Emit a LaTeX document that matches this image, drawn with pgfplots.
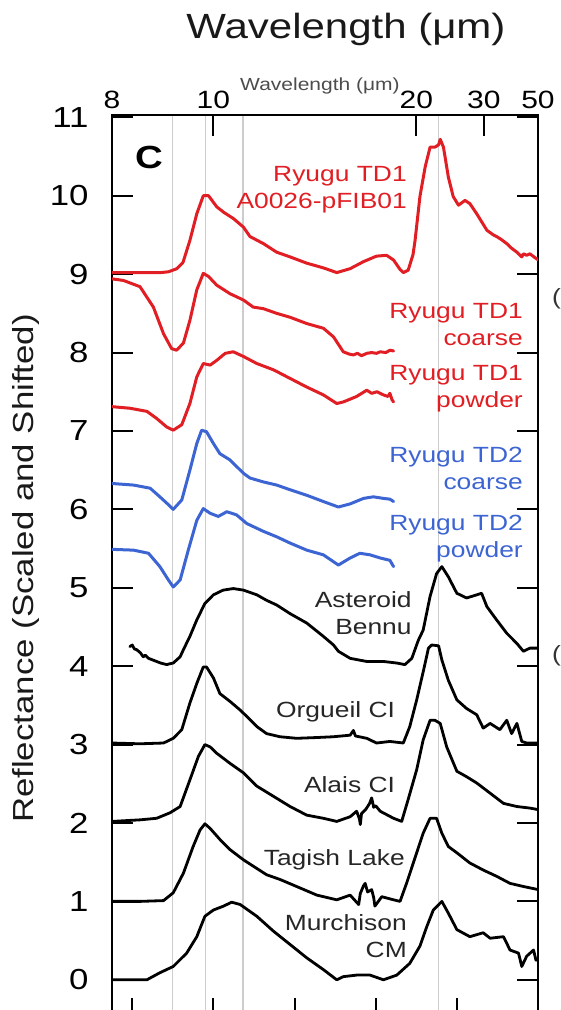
\documentclass[border=0pt]{standalone}
\usepackage{fontspec}
\setmainfont{Liberation Sans}[FakeStretch=1.2]
\usepackage{pgfplots}
\pgfplotsset{compat=1.18}
\definecolor{ryred}{RGB}{225,30,35}
\definecolor{ryblue}{RGB}{60,100,210}
\definecolor{vgrey}{RGB}{205,205,205}
\begin{document}
\begin{tikzpicture}
\begin{axis}[
  at={(112pt,-9pt)}, anchor=south west,
  scale only axis, width=426pt, height=904pt,
  xmin=200, xmax=1250, x dir=reverse,
  ymin=-0.5, ymax=11.03,
  xtick={400,600,800,1000,1200}, xticklabels={},
  xtick pos=lower, ytick pos=both,
  ytick={0,1,...,11},
  tick align=inside, major tick length=21pt,
  major tick style={black, line width=2pt},
  axis line style={black, line width=2.2pt},
  /pgf/number format/assume math mode=true,
  yticklabel style={font=\fontsize{29}{29}\selectfont, xshift=-20pt},
  every axis plot/.append style={line join=round, line cap=round},
]
\addplot[vgrey, line width=1.2pt, forget plot] coordinates {(1100,-0.5) (1100,11.03)};
\addplot[vgrey, line width=1.2pt, forget plot] coordinates {(1020,-0.5) (1020,11.03)};
\addplot[vgrey, line width=1.2pt, forget plot] coordinates {(927,-0.5) (927,11.03)};
\addplot[vgrey, line width=1.2pt, forget plot] coordinates {(445,-0.5) (445,11.03)};

% Ryugu TD1 A0026-pFIB01
\addplot[ryred, line width=3pt] coordinates {
(1250,9.02) (1180,9.02) (1130,9.02) (1111,9.03) (1090,9.07) (1075,9.15) (1058,9.43) (1041,9.77) (1025,10.00) (1012,10.00) (992,9.86) (975,9.79) (951,9.71) (926,9.60) (910,9.48) (877,9.39) (844,9.28) (811,9.22) (770,9.14) (729,9.08) (696,9.02) (663,9.07) (630,9.16) (598,9.23) (573,9.24) (556,9.18) (540,9.06) (532,9.02) (520,9.05) (508,9.25) (503,9.43) (491,9.99) (478,10.37) (466,10.62) (454,10.62) (445,10.65) (441,10.72) (433,10.62) (421,10.24) (409,9.99) (396,9.88) (380,9.94) (368,9.90) (351,9.77) (326,9.56) (310,9.50) (302,9.48) (290,9.44) (277,9.39) (265,9.33) (252,9.28) (240,9.22) (236,9.26) (228,9.24) (220,9.26) (210,9.22) (199,9.18)};
% Ryugu TD1 coarse
\addplot[ryred, line width=3pt] coordinates {
(1250,8.94) (1222,8.92) (1181,8.84) (1148,8.58) (1123,8.24) (1103,8.05) (1091,8.03) (1074,8.12) (1058,8.41) (1041,8.80) (1025,9.01) (1012,8.97) (992,8.86) (959,8.75) (926,8.67) (902,8.58) (877,8.56) (844,8.50) (811,8.45) (770,8.37) (729,8.31) (704,8.20) (680,8.01) (665,7.98) (655,7.97) (645,7.99) (635,7.96) (622,7.99) (610,8.00) (598,7.99) (589,8.01) (575,8.00) (565,8.03) (556,8.02)};
% Ryugu TD1 powder
\addplot[ryred, line width=3pt] coordinates {
(1250,7.31) (1206,7.29) (1164,7.25) (1140,7.16) (1115,7.05) (1099,7.01) (1078,7.08) (1058,7.35) (1041,7.69) (1025,7.86) (1008,7.84) (992,7.90) (971,7.99) (951,8.01) (926,7.95) (893,7.86) (852,7.78) (811,7.67) (770,7.56) (729,7.46) (696,7.35) (680,7.37) (647,7.44) (622,7.52) (610,7.48) (597,7.50) (581,7.46) (570,7.44) (565,7.48) (560,7.40) (556,7.37)};
% Ryugu TD2 coarse
\addplot[ryblue, line width=3pt] coordinates {
(1250,6.33) (1197,6.31) (1156,6.27) (1132,6.16) (1111,6.06) (1099,6.00) (1078,6.12) (1058,6.50) (1041,6.84) (1029,7.01) (1017,6.99) (1000,6.84) (984,6.71) (959,6.63) (926,6.46) (910,6.40) (877,6.35) (844,6.31) (811,6.25) (770,6.18) (729,6.10) (692,6.03) (663,6.07) (630,6.14) (606,6.16) (581,6.14) (565,6.13) (556,6.10)};
% Ryugu TD2 powder
\addplot[ryblue, line width=3pt] coordinates {
(1250,5.49) (1197,5.48) (1160,5.44) (1132,5.27) (1111,5.10) (1099,5.01) (1082,5.10) (1062,5.48) (1041,5.86) (1025,6.01) (1008,5.95) (988,5.91) (967,5.97) (943,5.93) (918,5.82) (877,5.72) (844,5.65) (811,5.57) (770,5.48) (729,5.42) (692,5.29) (663,5.38) (639,5.44) (614,5.42) (589,5.38) (565,5.35) (556,5.27)};
% Asteroid Bennu
\addplot[black, line width=2.8pt] coordinates {
(1206,4.25) (1200,4.27) (1195,4.22) (1189,4.21) (1180,4.17) (1173,4.12) (1168,4.14) (1160,4.10) (1150,4.08) (1140,4.06) (1130,4.04) (1115,4.02) (1108,4.03) (1099,4.04) (1082,4.12) (1074,4.21) (1058,4.38) (1041,4.59) (1021,4.80) (1000,4.91) (976,4.97) (951,4.99) (926,4.97) (893,4.91) (869,4.84) (844,4.78) (811,4.67) (770,4.55) (729,4.38) (704,4.27) (692,4.19) (663,4.10) (622,4.06) (581,4.06) (548,4.04) (528,4.02) (511,4.10) (495,4.33) (483,4.46) (466,4.89) (450,5.18) (437,5.27) (421,5.14) (400,4.93) (376,4.87) (351,4.91) (339,4.93) (326,4.76) (302,4.59) (277,4.42) (252,4.29) (236,4.19) (220,4.23) (199,4.23)};
% Orgueil CI
\addplot[black, line width=2.8pt] coordinates {
(1250,3.02) (1181,3.01) (1123,3.02) (1099,3.08) (1078,3.19) (1058,3.53) (1041,3.78) (1025,3.99) (1017,3.99) (1000,3.85) (984,3.65) (959,3.55) (934,3.44) (918,3.36) (893,3.23) (869,3.14) (836,3.10) (795,3.08) (745,3.09) (704,3.10) (663,3.12) (655,3.18) (650,3.11) (622,3.08) (598,3.02) (565,3.04) (532,3.02) (516,3.23) (499,3.57) (482,3.95) (470,4.23) (462,4.27) (445,4.26) (437,4.08) (421,3.82) (400,3.57) (376,3.46) (351,3.38) (335,3.21) (318,3.27) (294,3.19) (277,3.31) (265,3.14) (252,3.27) (240,3.04) (228,3.02) (199,3.02)};
% Alais CI
\addplot[black, line width=2.8pt] coordinates {
(1250,2.02) (1181,2.04) (1140,2.06) (1107,2.13) (1082,2.21) (1058,2.55) (1037,2.85) (1021,3.00) (1008,2.97) (992,2.89) (959,2.76) (926,2.64) (893,2.47) (852,2.34) (811,2.21) (770,2.10) (729,2.06) (696,2.02) (663,2.08) (647,2.15) (640,2.05) (638,1.98) (635,2.12) (625,2.17) (615,2.25) (610,2.32) (605,2.20) (600,2.22) (589,2.15) (556,2.06) (536,2.02) (520,2.30) (499,2.68) (483,3.06) (466,3.31) (454,3.31) (441,3.27) (425,2.97) (400,2.66) (376,2.59) (351,2.51) (318,2.38) (285,2.25) (252,2.21) (220,2.19) (199,2.17)};
% Tagish Lake
\addplot[black, line width=2.8pt] coordinates {
(1250,1.00) (1181,1.00) (1123,1.01) (1099,1.11) (1074,1.36) (1050,1.70) (1033,1.91) (1021,1.99) (1008,1.93) (984,1.79) (959,1.66) (926,1.53) (893,1.42) (869,1.34) (836,1.28) (795,1.19) (745,1.08) (696,1.02) (663,1.08) (642,0.96) (638,1.10) (630,1.20) (626,1.23) (620,1.12) (610,1.15) (605,1.05) (602,0.94) (585,1.06) (556,1.02) (540,1.00) (524,1.23) (499,1.62) (483,1.87) (466,2.06) (450,2.06) (437,1.87) (421,1.70) (400,1.62) (368,1.49) (335,1.40) (302,1.32) (269,1.23) (236,1.19) (199,1.15)};
% Murchison CM
\addplot[black, line width=2.8pt] coordinates {
(1250,0.00) (1164,0.00) (1132,0.09) (1099,0.17) (1066,0.34) (1041,0.55) (1021,0.81) (1000,0.89) (975,0.94) (955,0.99) (934,0.96) (893,0.81) (852,0.62) (811,0.45) (770,0.28) (729,0.13) (696,0.00) (680,0.04) (647,0.06) (614,0.06) (581,0.00) (548,0.06) (516,0.21) (491,0.43) (474,0.68) (458,0.89) (437,1.00) (421,0.85) (400,0.64) (368,0.55) (335,0.60) (318,0.53) (285,0.55) (269,0.38) (248,0.34) (240,0.17) (228,0.30) (211,0.38) (205,0.25) (199,0.26)};

\begin{scope}[every node/.style={anchor=north east, align=right, inner sep=0pt, font=\fontsize{22}{27}\selectfont}]
\node[text=ryred] at (axis cs:523,10.376) {Ryugu TD1\\A0026-pFIB01};
\node[text=ryred] at (axis cs:237,8.63) {Ryugu TD1\\coarse};
\node[text=ryred] at (axis cs:237,7.84) {Ryugu TD1\\powder};
\node[text=ryblue] at (axis cs:237,6.80) {Ryugu TD2\\coarse};
\node[text=ryblue] at (axis cs:237,5.93) {Ryugu TD2\\powder};
\node[text=black!85] at (axis cs:511,4.95) {Asteroid\\Bennu};
\node[text=black!85] at (axis cs:552,3.55) {Orgueil CI};
\node[text=black!85] at (axis cs:552,2.60) {Alais CI};
\node[text=black!85] at (axis cs:528,1.67) {Tagish Lake};
\node[text=black!85] at (axis cs:523,0.83) {Murchison\\CM};
\end{scope}
\end{axis}

\begin{axis}[
  at={(112pt,-9pt)}, anchor=south west,
  scale only axis, width=426pt, height=904pt,
  xmin=200, xmax=1250, x dir=reverse,
  ymin=-0.5, ymax=11.03,
  axis x line*=top, axis y line=none,
  xtick={1250,1000,500,333.333,200}, xticklabels={8,10,20,30,50},
  tick align=inside, major tick length=21pt,
  major tick style={black, line width=2pt},
  axis line style={black, line width=2.2pt},
  xticklabel style={font=\fontsize{25}{25}\selectfont, inner sep=0pt, yshift=6pt},
]
\addplot[draw=none] coordinates {(1000,0)};
\end{axis}

\node[anchor=base, font=\fontsize{35}{35}\selectfont, text=black!90] at (346pt,971pt) {Wavelength (μm)};
\node[anchor=base, font=\fontsize{17.5}{17.5}\selectfont, text=black!70] at (320pt,919pt) {Wavelength (μm)};
\node[anchor=base, rotate=90, font=\fontsize{29}{29}\selectfont, text=black!90] at (33pt,441.5pt) {Reflectance (Scaled and Shifted)};
\node[font=\bfseries\fontsize{32}{32}\selectfont] at (149pt,853pt) {C};
\node[anchor=east, inner sep=0pt, font=\fontsize{22}{22}\selectfont, text=black!80] at (561pt,711pt) {(};
\node[anchor=east, inner sep=0pt, font=\fontsize{22}{22}\selectfont, text=black!80] at (561pt,354pt) {(};
\pgfresetboundingbox
\useasboundingbox (0,0) rectangle (561pt,1010pt);
\end{tikzpicture}
\end{document}
